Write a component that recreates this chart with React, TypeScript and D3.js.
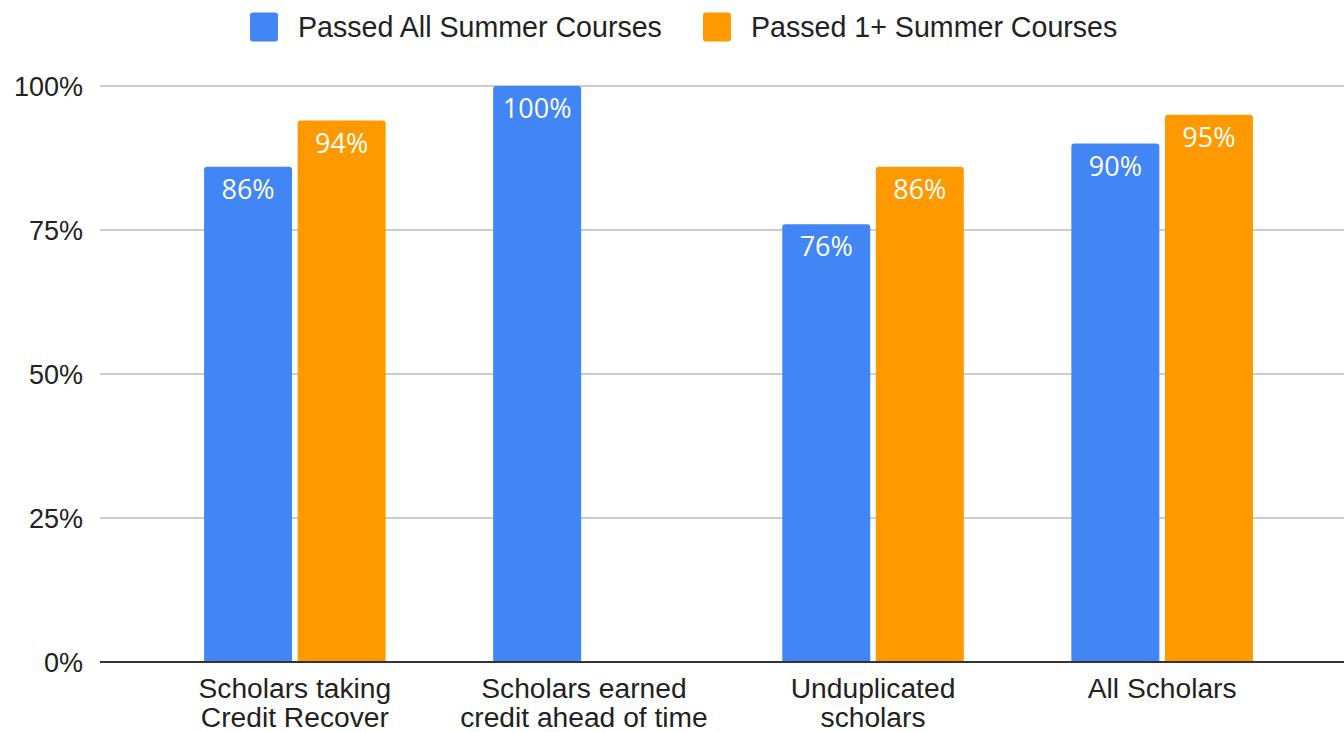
import React from "react";
import * as d3 from "d3";

const categories: string[][] = [
  ["Scholars taking", "Credit Recover"],
  ["Scholars earned", "credit ahead of time"],
  ["Unduplicated", "scholars"],
  ["All Scholars"],
];
const seriesNames = ["Passed All Summer Courses", "Passed 1+ Summer Courses"];
const passedAll = [0.86, 1.0, 0.76, 0.9];
const passedOnePlus: (number | null)[] = [0.94, null, 0.86, 0.95];
const yTicks = [0, 0.25, 0.5, 0.75, 1.0];
const colors = ["#4285F4", "#FF9900"];

const W = 1344;
const H = 732;

function topRoundedRect(x: number, y: number, w: number, h: number, r: number) {
  const rr = Math.min(r, h / 2, w / 2);
  return `M${x},${y + h}V${y + rr}Q${x},${y} ${x + rr},${y}H${x + w - rr}Q${x + w},${y} ${x + w},${y + rr}V${y + h}Z`;
}

export default function App() {
  const y = d3.scaleLinear().domain([0, 1]).range([662, 86]);
  const x0 = d3
    .scaleBand<number>()
    .domain(categories.map((_, i) => i))
    .range([150.3, 1306.7])
    .paddingInner(0.372)
    .paddingOuter(0.186);
  const x1 = d3
    .scaleBand<number>()
    .domain([0, 1])
    .range([0, x0.bandwidth()])
    .paddingInner(0.06);
  const values = [passedAll, passedOnePlus];
  const axisFont = "Arial, 'Liberation Sans', sans-serif";
  const labelFont = "'Open Sans', sans-serif";

  return (
    <svg width={W} height={H} style={{ position: "absolute", left: 0, top: 0, background: "#fff" }}>
      {/* legend */}
      {seriesNames.map((s, i) => {
        const lx = [250, 703][i];
        return (
          <g key={s}>
            <rect x={lx} y={12.5} width={28} height={29} rx={3} fill={colors[i]} />
            <text x={lx + 48} y={37} fontFamily={axisFont} fontSize={28.6} fill="#222">
              {s}
            </text>
          </g>
        );
      })}
      {/* gridlines */}
      {yTicks.map((t) => (
        <g key={t}>
          {t !== 0 && (
            <line x1={100} x2={W} y1={y(t)} y2={y(t)} stroke="#cccccc" strokeWidth={2} />
          )}
          <text
            x={83}
            y={y(t) + 10}
            textAnchor="end"
            fontFamily={axisFont}
            fontSize={27}
            fill="#222"
          >
            {d3.format(".0%")(t)}
          </text>
        </g>
      ))}
      {/* bars */}
      {categories.map((_, ci) =>
        values.map((vals, si) => {
          const v = vals[ci];
          if (v == null) return null;
          const bx = (x0(ci) as number) + (x1(si) as number);
          const bw = x1.bandwidth();
          const by = y(v);
          return (
            <g key={`${ci}-${si}`}>
              <path d={topRoundedRect(bx, by, bw, y(0) - by, 3)} fill={colors[si]} />
              <text
                x={bx + bw / 2}
                y={by + 32}
                textAnchor="middle"
                fontFamily={labelFont}
                fontSize={27}
                fill="#ffffff"
              >
                {d3.format(".0%")(v)}
              </text>
            </g>
          );
        })
      )}
      {/* zero line */}
      <line x1={100} x2={W} y1={y(0)} y2={y(0)} stroke="#333333" strokeWidth={2} />
      {/* category labels */}
      {categories.map((lines, ci) => (
        <text
          key={ci}
          textAnchor="middle"
          fontFamily={axisFont}
          fontSize={28.2}
          fill="#222"
        >
          {lines.map((l, li) => (
            <tspan key={li} x={(x0(ci) as number) + x0.bandwidth() / 2} y={698 + li * 29}>
              {l}
            </tspan>
          ))}
        </text>
      ))}
    </svg>
  );
}
